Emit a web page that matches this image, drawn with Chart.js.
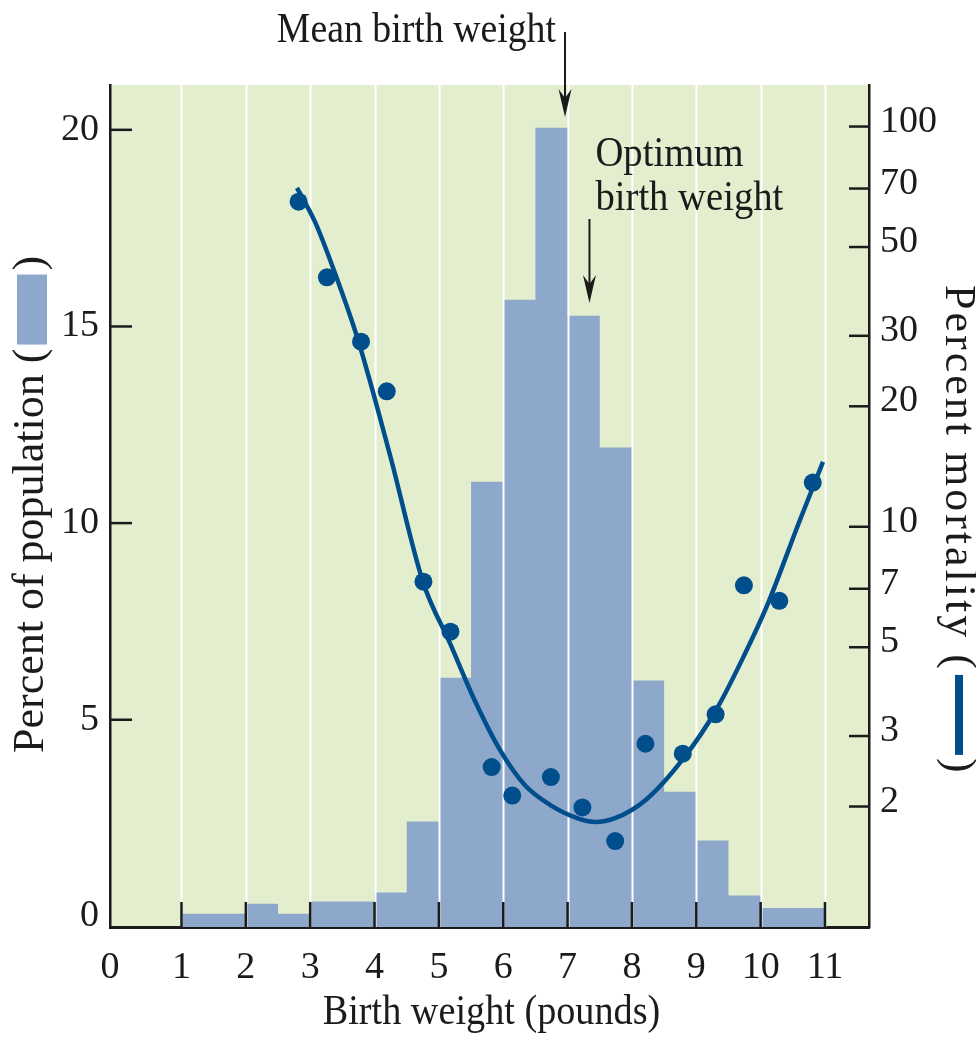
<!DOCTYPE html>
<html>
<head>
<meta charset="utf-8">
<script src="https://cdn.jsdelivr.net/npm/chart.js@4.4.1/dist/chart.umd.min.js"></script>
<style>
  html, body { margin: 0; padding: 0; background: #fff; }
  #wrap { width: 976px; height: 1037px; position: relative; }
</style>
</head>
<body>
<div id="wrap"><canvas id="myChart"></canvas></div>
<script>
// histogram: bin edges (pounds) and percent of population per bin
let binEdges   = [1, 2, 2.5, 3, 4, 4.5, 5, 5.5, 6, 6.5, 7, 7.5, 8, 8.5, 9, 9.5, 10, 11];
let popPercent = [0.07, 0.32, 0.07, 0.38, 0.61, 2.41, 6.07, 11.05, 15.68, 20.05, 15.27, 11.92, 6.0, 3.17, 1.93, 0.53, 0.21];

// mortality observations
let mortX = [2.82, 3.26, 3.79, 4.19, 4.76, 5.18, 5.82, 6.14, 6.74, 7.23, 7.74, 8.21, 8.79, 9.30, 9.74, 10.29, 10.81];
let mortY = [64.9, 42.0, 29.0, 21.8, 7.29, 5.47, 2.51, 2.13, 2.37, 1.99, 1.64, 2.87, 2.71, 3.40, 7.14, 6.53, 12.9];

// fitted mortality curve
let curveX = [2.795, 3.075, 3.355, 3.743, 4.24, 4.753, 5.172, 5.561, 5.949, 6.338, 6.726, 7.193, 7.426, 7.737, 8.219, 8.794, 9.306, 9.741, 10.098, 10.611, 10.969];
let curveY = [70.25, 57.76, 44.33, 29.3, 15.11, 7.28, 5.12, 3.67, 2.77, 2.26, 2.02, 1.86, 1.83, 1.87, 2.08, 2.63, 3.48, 4.76, 6.34, 10.4, 14.52];

// tick labels
let xTicks     = [0, 1, 2, 3, 4, 5, 6, 7, 8, 9, 10, 11];
let popTicks   = [0, 5, 10, 15, 20];
let mortTicks  = [2, 3, 5, 7, 10, 20, 30, 50, 70, 100];

let meanWeight    = 6.96;
let optimumWeight = 7.34;

const serif   = '"Liberation Serif", "Times New Roman", serif';
const ink     = '#1b1b1b';
const blue    = '#004e8c';
const barBlue = '#8ea8cc';
const green   = '#e3eecf';

function label(ctx, str, x, y, size, align, sx) {
    ctx.save();
    ctx.translate(x, y);
    ctx.scale(sx, 1);
    ctx.font = size + 'px ' + serif;
    ctx.textAlign = align;
    ctx.textBaseline = 'alphabetic';
    ctx.fillStyle = ink;
    ctx.fillText(str, 0, 0);
    ctx.restore();
}

function arrow(ctx, x, y0, tip) {
    ctx.save();
    ctx.strokeStyle = ink;
    ctx.fillStyle = ink;
    ctx.lineWidth = 2;
    ctx.beginPath();
    ctx.moveTo(x, y0);
    ctx.lineTo(x, tip - 12);
    ctx.stroke();
    ctx.beginPath();
    ctx.moveTo(x, tip);
    ctx.lineTo(x - 6.5, tip - 28);
    ctx.lineTo(x, tip - 19);
    ctx.lineTo(x + 6.5, tip - 28);
    ctx.closePath();
    ctx.fill();
    ctx.restore();
}

const decor = {
    id: 'decor',
    beforeDraw(chart) {
        const {ctx, chartArea: a} = chart;
        ctx.save();
        ctx.fillStyle = green;
        ctx.fillRect(a.left, a.top, a.right - a.left, a.bottom - a.top);
        ctx.restore();
    },
    afterDatasetDraw(chart, args) {
        if (args.index !== 0) return;
        // white vertical rules over the histogram, under the curve
        const {ctx, chartArea: a, scales} = chart;
        ctx.save();
        ctx.strokeStyle = '#ffffff';
        ctx.lineWidth = 2;
        for (const v of xTicks) {
            if (v === 0) continue;
            const px = Math.round(scales.x.getPixelForValue(v)) + 0.5;
            ctx.beginPath();
            ctx.moveTo(px, a.top);
            ctx.lineTo(px, a.bottom);
            ctx.stroke();
        }
        ctx.restore();
    },
    afterDraw(chart) {
        const {ctx, chartArea: a, scales} = chart;
        ctx.save();
        ctx.strokeStyle = ink;
        ctx.lineWidth = 2.5;
        // inward tick marks
        for (const v of xTicks) {
            if (v === 0) continue;
            const px = scales.x.getPixelForValue(v);
            ctx.beginPath(); ctx.moveTo(px, a.bottom); ctx.lineTo(px, a.bottom - 25); ctx.stroke();
        }
        for (const v of popTicks) {
            if (v === 0) continue;
            const py = scales.y.getPixelForValue(v);
            ctx.beginPath(); ctx.moveTo(a.left, py); ctx.lineTo(a.left + 22, py); ctx.stroke();
        }
        for (const v of mortTicks) {
            const py = scales.y2.getPixelForValue(v);
            ctx.beginPath(); ctx.moveTo(a.right - 20, py); ctx.lineTo(a.right, py); ctx.stroke();
        }
        ctx.restore();

        // annotations
        const mx = scales.x.getPixelForValue(meanWeight);
        const ox = scales.x.getPixelForValue(optimumWeight);
        label(ctx, 'Mean birth weight', mx - 9, 42, 42, 'right', 0.9);
        arrow(ctx, mx, 32, 117);
        label(ctx, 'Optimum', ox + 6, 166, 42, 'left', 0.92);
        label(ctx, 'birth weight', ox + 6, 210, 42, 'left', 0.92);
        arrow(ctx, ox, 219, 303);

        // x title
        label(ctx, 'Birth weight (pounds)', (a.left + a.right) / 2 + 2, 1024, 42, 'center', 0.91);

        // left title with bar swatch
        ctx.save();
        ctx.translate(43, 753);
        ctx.rotate(-Math.PI / 2);
        ctx.font = '44px ' + serif;
        ctx.textAlign = 'left';
        ctx.textBaseline = 'alphabetic';
        ctx.fillStyle = ink;
        const t1 = 'Percent of population (';
        ctx.fillText(t1, 0, 0);
        let w = ctx.measureText(t1).width;
        ctx.fillStyle = barBlue;
        ctx.fillRect(w + 4, -26, 70, 30);
        ctx.fillStyle = ink;
        ctx.fillText(')', w + 78, 0);
        ctx.restore();

        // right title with line swatch
        ctx.save();
        ctx.translate(946, 285);
        ctx.rotate(Math.PI / 2);
        ctx.font = '44px ' + serif;
        ctx.letterSpacing = '3px';
        ctx.textAlign = 'left';
        ctx.textBaseline = 'alphabetic';
        ctx.fillStyle = ink;
        const t2 = 'Percent mortality (';
        ctx.fillText(t2, 0, 0);
        w = ctx.measureText(t2).width;
        ctx.fillStyle = blue;
        ctx.fillRect(w + 3, -17, 80, 8);
        ctx.fillStyle = ink;
        ctx.fillText(')', w + 86, 0);
        ctx.restore();
    }
};

const tickFont = { family: serif, size: 38 };

let ctx = document.getElementById('myChart').getContext('2d');
let chart = new Chart(ctx, {
    type: 'line',
    data: {
        datasets: [{
            label: 'Percent of population',
            data: binEdges.map((e, i) => ({ x: e, y: popPercent[Math.min(i, popPercent.length - 1)] })),
            stepped: true,
            fill: 'start',
            backgroundColor: barBlue,
            borderColor: 'rgba(0,0,0,0)',
            borderWidth: 0,
            pointRadius: 0,
            yAxisID: 'y',
            order: 3,
        }, {
            label: 'Percent mortality (fit)',
            data: curveX.map((x, i) => ({ x: x, y: curveY[i] })),
            borderColor: blue,
            borderWidth: 4.5,
            cubicInterpolationMode: 'monotone',
            pointRadius: 0,
            fill: false,
            yAxisID: 'y2',
            order: 2,
        }, {
            type: 'scatter',
            label: 'Percent mortality',
            data: mortX.map((x, i) => ({ x: x, y: mortY[i] })),
            backgroundColor: blue,
            borderWidth: 0,
            pointRadius: 9,
            yAxisID: 'y2',
            order: 1,
        }]
    },
    options: {
        responsive: true,
        maintainAspectRatio: false,
        animation: false,
        events: [],
        layout: { padding: { top: 85, left: 0, right: 0, bottom: 0 } },
        plugins: { legend: { display: false }, tooltip: { enabled: false } },
        scales: {
            x: {
                type: 'linear',
                position: 'bottom',
                min: -0.111,
                max: 11.684,
                z: 1,
                afterBuildTicks: s => { s.ticks = xTicks.map(v => ({ value: v === 0 ? s.min : v })); },
                afterFit: s => { s.height = 110; },
                grid: { display: false, drawTicks: false },
                border: { display: true, color: ink, width: 3 },
                ticks: {
                    font: tickFont, color: ink, padding: 18, autoSkip: false, maxRotation: 0,
                    callback: (v, i) => String(xTicks[i]),
                },
            },
            y: {
                type: 'linear',
                position: 'left',
                min: -0.27,
                max: 21.14,
                afterBuildTicks: s => { s.ticks = popTicks.map(v => ({ value: v })); },
                afterFit: s => { s.width = 110; },
                grid: { display: false, drawTicks: false },
                border: { display: true, color: ink, width: 2.5 },
                ticks: { font: tickFont, color: ink, padding: 11, callback: v => String(v) },
            },
            y2: {
                type: 'logarithmic',
                position: 'right',
                min: 1,
                max: 127,
                afterBuildTicks: s => { s.ticks = mortTicks.map(v => ({ value: v })); },
                afterFit: s => { s.width = 107; },
                grid: { display: false, drawTicks: false },
                border: { display: true, color: ink, width: 2.5 },
                ticks: { font: tickFont, color: ink, padding: 11, labelOffset: -5, callback: v => String(v) },
            }
        }
    },
    plugins: [decor]
});
</script>
</body>
</html>
